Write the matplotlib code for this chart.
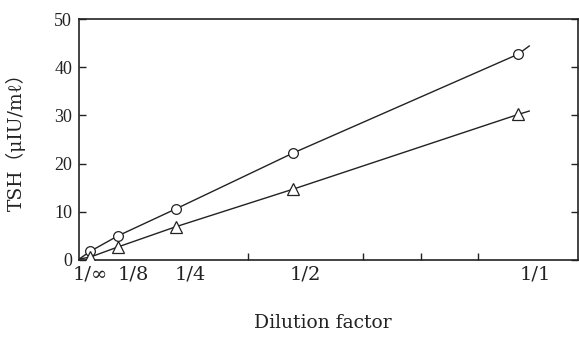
import matplotlib
matplotlib.use("Agg")
import matplotlib.pyplot as plt

# dilution axis positions (ticks every 1/8)
tick_pos = [0.125, 0.25, 0.375, 0.5, 0.625, 0.75, 0.875, 1.0]
label_pos = [0.032, 0.125, 0.25, 0.5, 1.0]
label_txt = ["1/∞", "1/8", "1/4", "1/2", "1/1"]

# measured points
dil_x = [0.032, 0.092, 0.218, 0.473, 0.962]
tsh_circle = [1.8, 5.0, 10.6, 22.2, 42.7]
tsh_triangle = [0.6, 2.7, 6.9, 14.7, 30.2]

# drawn lines (start near origin, short tail past last point)
line_x = [0.008, 0.032, 0.092, 0.218, 0.473, 0.962, 0.986]
line_circle = [0.2, 1.8, 5.0, 10.6, 22.2, 42.7, 44.4]
line_triangle = [0.2, 0.6, 2.7, 6.9, 14.7, 30.2, 30.9]

ink = "#222222"
plt.rcParams['font.family'] = ['DejaVu Serif', 'Liberation Serif',
                               'Noto Sans CJK JP', 'DejaVu Sans']

fig = plt.figure(figsize=(5.79, 3.38), dpi=100)
ax = fig.add_axes([79/579, 78/338, 499/579, 241/338])

ax.plot(line_x, line_circle, color=ink, lw=1.0, zorder=2)
ax.plot(line_x, line_triangle, color=ink, lw=1.0, zorder=2)
ax.plot(dil_x, tsh_circle, ls='none', marker='o', ms=7, mfc='white',
        mec=ink, mew=0.9, zorder=3)
ax.plot(dil_x, tsh_triangle, ls='none', marker='^', ms=8, mfc='white',
        mec=ink, mew=0.9, zorder=3)

ax.set_xlim(0.0076, 1.092)
ax.set_ylim(0, 50)

ax.set_xticks(label_pos)
ax.set_xticklabels(label_txt, fontsize=14, color=ink)
ax.set_xticks(tick_pos, minor=True)
ax.tick_params(axis='x', which='major', length=0, pad=4)
ax.tick_params(axis='x', which='minor', direction='in', length=5,
               width=1.0, color=ink)

ax.set_yticks([0, 10, 20, 30, 40, 50])
ax.tick_params(axis='y', direction='in', length=5, width=1.0, color=ink,
               labelcolor=ink, right=True, pad=5)
for lab in ax.get_yticklabels():
    lab.set_family(['Liberation Serif', 'DejaVu Serif'])
    lab.set_fontsize(13)

for s in ax.spines.values():
    s.set_linewidth(1.2)
    s.set_color(ink)

ax.set_ylabel("TSH（μIU/mℓ）", fontsize=13.5, color=ink, va='center')
ax.yaxis.set_label_coords(-0.126, 0.508)
ax.set_xlabel("Dilution factor", fontsize=13.5, color=ink, va='center')
ax.xaxis.set_label_coords(0.489, -0.261)

fig.savefig("out.png", dpi=100)
